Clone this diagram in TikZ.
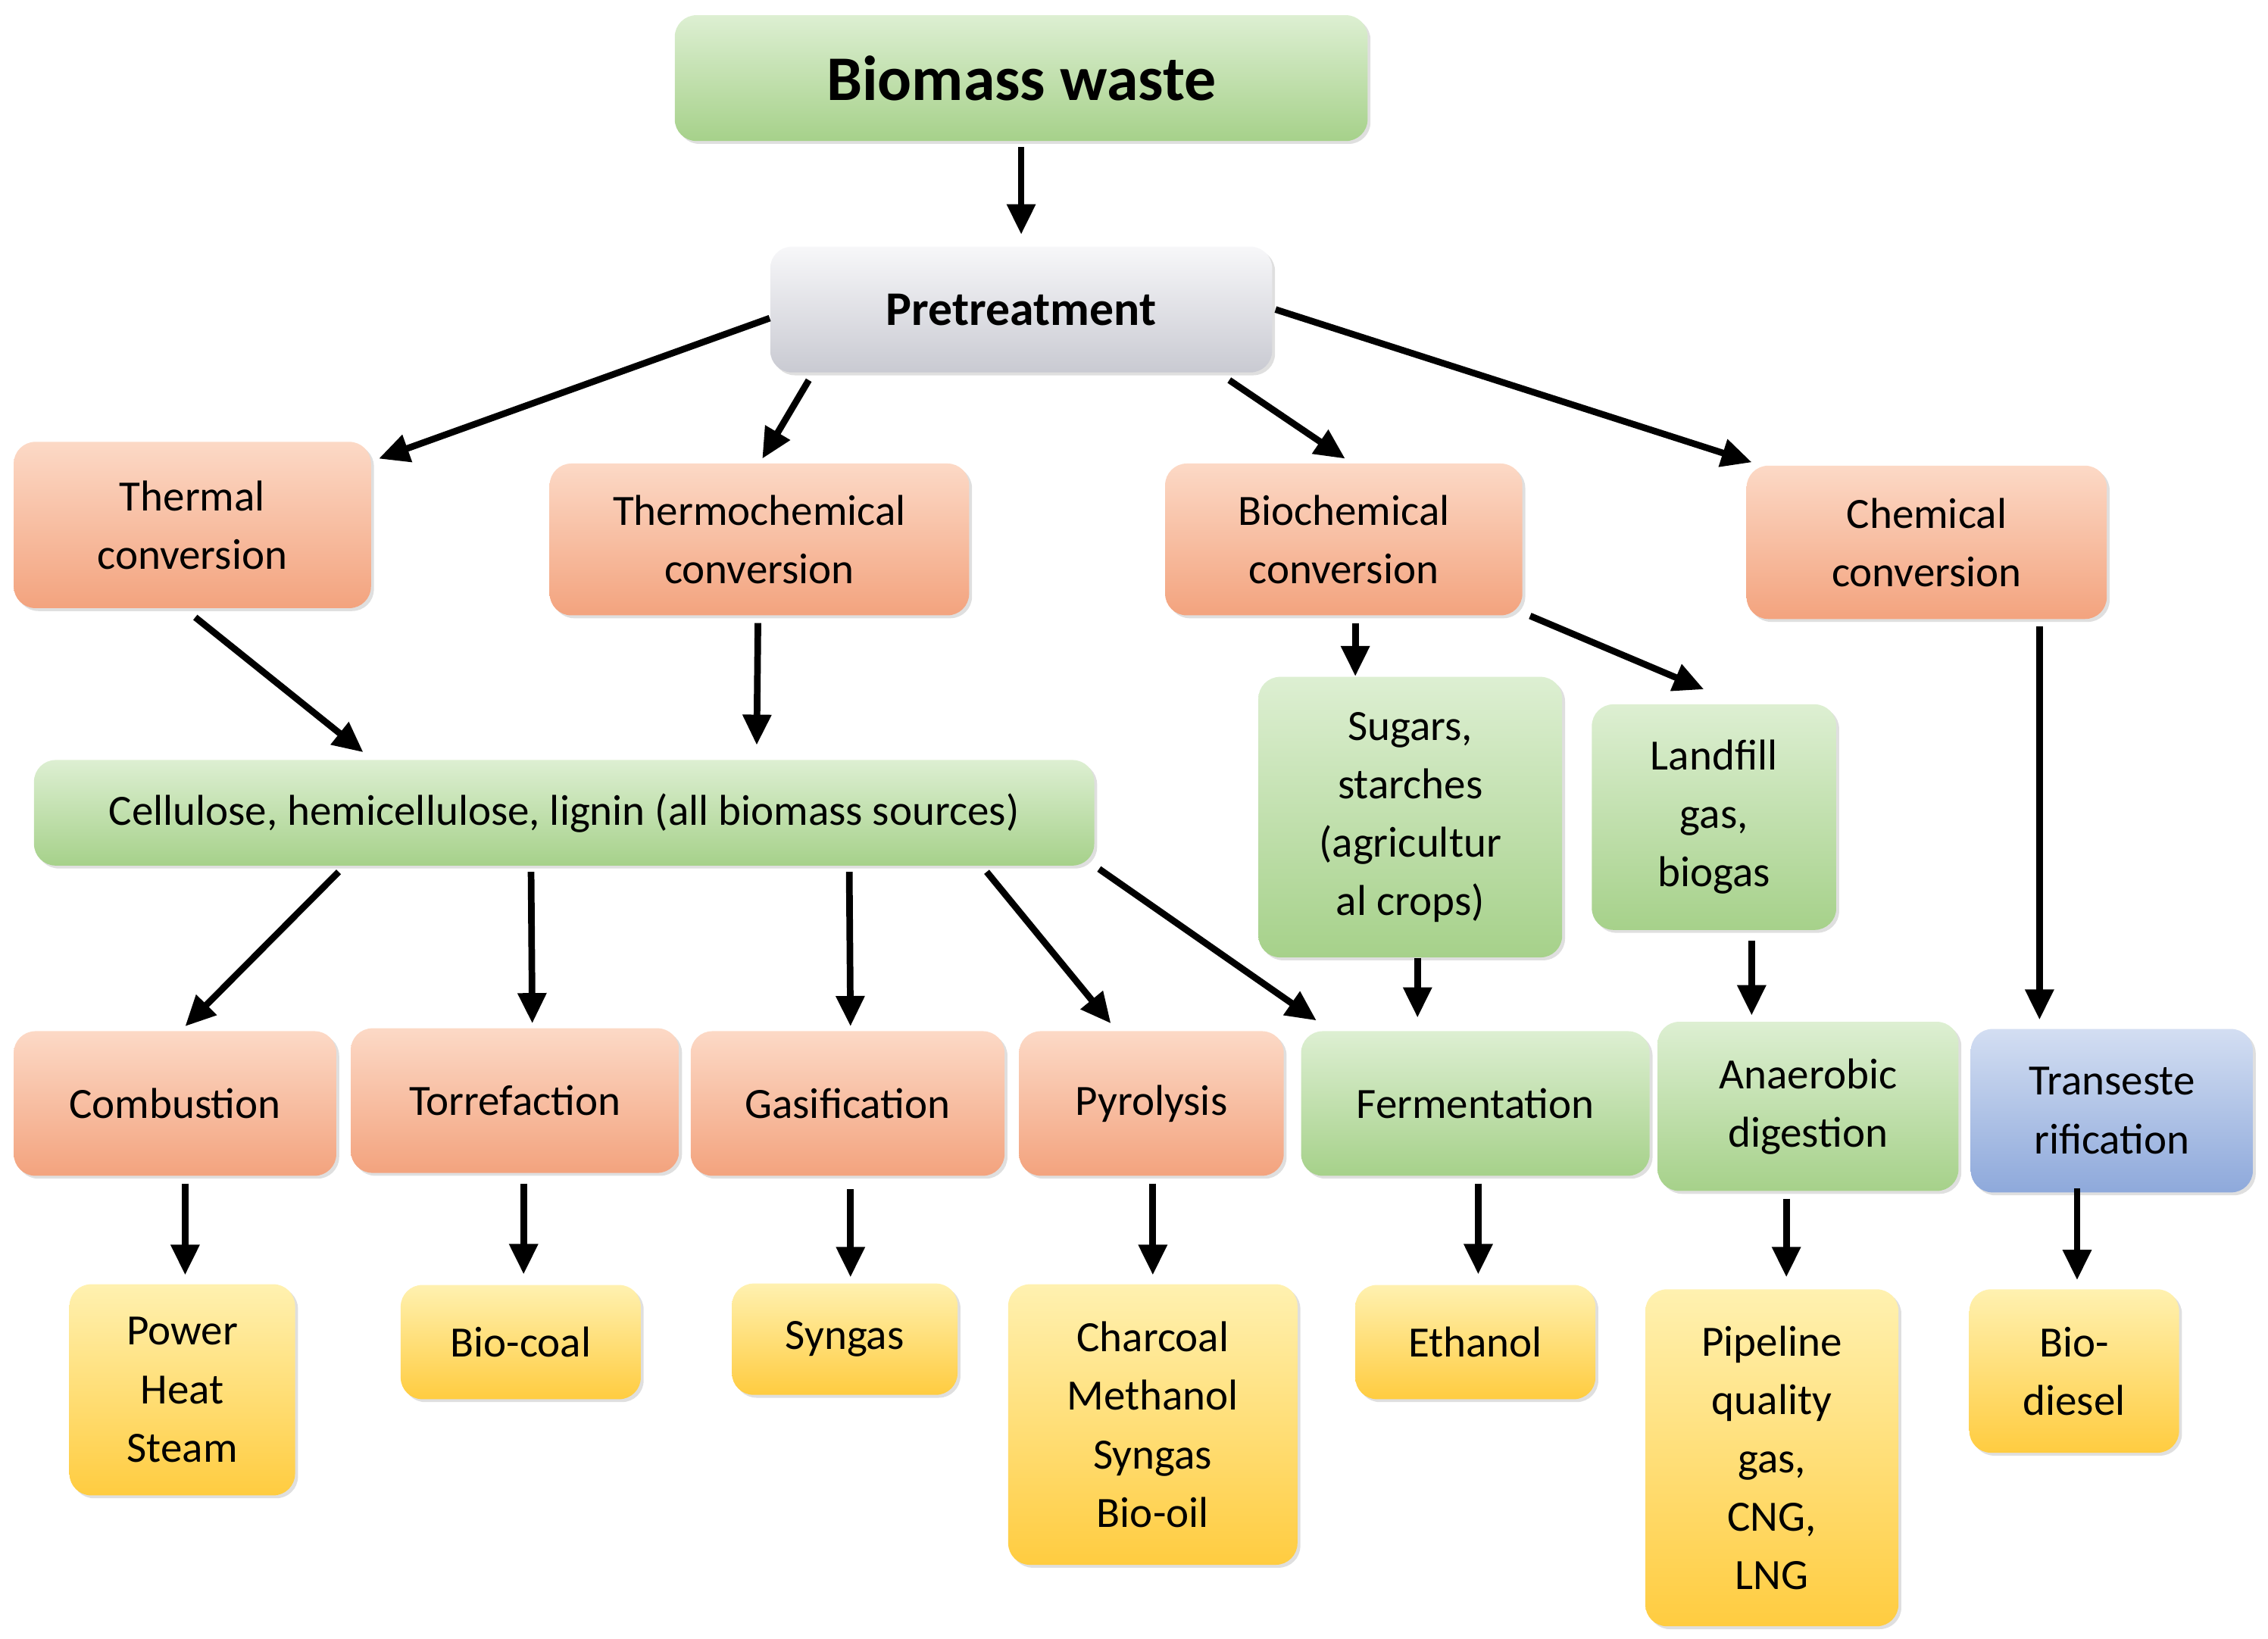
\documentclass[tikz,border=0pt]{standalone}
\usepackage{fontspec}
\setmainfont{Carlito}
\usetikzlibrary{arrows.meta,shadows,calc}
\definecolor{orT}{HTML}{FCD9C6}\definecolor{orB}{HTML}{F3A37E}
\definecolor{grT}{HTML}{DDEFD2}\definecolor{grB}{HTML}{A6D18A}
\definecolor{yeT}{HTML}{FFF1B0}\definecolor{yeB}{HTML}{FFCC40}
\definecolor{blT}{HTML}{D3DEF2}\definecolor{blB}{HTML}{8EA9DB}
\definecolor{gyT}{HTML}{F7F7F9}\definecolor{gyB}{HTML}{C9CAD2}
\tikzset{
 box/.style={rounded corners=0.3cm,draw=none,align=center,font=\fontsize{17}{23}\selectfont,
   drop shadow={shadow xshift=0.04cm,shadow yshift=-0.04cm,opacity=0.25},inner sep=2pt},
 ora/.style={box,top color=orT,bottom color=orB},
 gre/.style={box,top color=grT,bottom color=grB},
 yel/.style={box,top color=yeT,bottom color=yeB},
 blu/.style={box,top color=blT,bottom color=blB},
 gry/.style={box,top color=gyT,bottom color=gyB},
 sz/.style 2 args={minimum width=#1*0.02cm,minimum height=#2*0.02cm},
 arr/.style={line width=2.6pt,-{Triangle[length=0.42cm,width=0.38cm]}}
}
\begin{document}
\begin{tikzpicture}[x=0.02cm,y=-0.02cm]
\useasboundingbox (0,0) rectangle (1568,1133);
\node[gre,sz={479}{87},font=\fontsize{25}{30}\selectfont\bfseries] (bw) at (706,54) {Biomass waste};
\node[gry,sz={347}{87},font=\fontsize{19}{24}\selectfont\bfseries] (pre) at (706,214) {Pretreatment};
\node[ora,sz={247}{115}] (th) at (133,363) {Thermal\\conversion};
\node[ora,sz={290}{105}] (tc) at (525,373) {Thermochemical\\conversion};
\node[ora,sz={247}{105}] (bc) at (929,373) {Biochemical\\conversion};
\node[ora,sz={249}{106}] (cc) at (1332,375) {Chemical\\conversion};
\node[gre,sz={733}{73}] (cel) at (390,562) {Cellulose, hemicellulose, lignin (all biomass sources)};
\node[gre,sz={210}{194}] (sug) at (975,565) {Sugars,\\starches\\(agricultur\\al crops)};
\node[gre,sz={169}{156}] (lf) at (1185,565) {Landfill\\gas,\\biogas};
\node[ora,sz={223}{100}] (com) at (121,763) {Combustion};
\node[ora,sz={227}{100}] (tor) at (356,761) {Torrefaction};
\node[ora,sz={217}{100}] (gas) at (586,763) {Gasification};
\node[ora,sz={183}{100}] (pyr) at (796,763) {Pyrolysis};
\node[gre,sz={241}{100}] (fer) at (1020,763) {Fermentation};
\node[gre,sz={208}{117}] (ana) at (1250,765) {Anaerobic\\digestion};
\node[blu,sz={195}{113}] (tra) at (1460,768) {Transeste\\rification};
\node[yel,sz={156}{146}] (pow) at (126,961) {Power\\Heat\\Steam};
\node[yel,sz={166}{79}] (bco) at (360,928) {Bio-coal};
\node[yel,sz={156}{77}] (syn) at (584,926) {Syngas};
\node[yel,sz={200}{194}] (cha) at (797,985) {Charcoal\\Methanol\\Syngas\\Bio-oil};
\node[yel,sz={166}{79}] (eth) at (1020,928) {Ethanol};
\node[yel,sz={175}{233}] (pip) at (1225,1008) {Pipeline\\quality\\gas,\\CNG,\\LNG};
\node[yel,sz={145}{113}] (bdi) at (1434,948) {Bio-\\diesel};
% arrows
\draw[arr] ($(bw.south)+(0,4)$) -- ($(pre.north)+(0,-8)$);
\draw[arr] ($(pre.west)+(0,6)$) -- ($(th.north east)+(5,12)$);
\draw[arr] ($(pre.south west)+(27,5)$) -- ($(tc.north)+(2,-3)$);
\draw[arr] ($(pre.south east)+(-30,5)$) -- ($(bc.north)+(1,-3)$);
\draw[arr] ($(pre.east)+(2,0)$) -- ($(cc.north west)+(4,-2)$);
\draw[arr] ($(th.south)+(2,6)$) -- ($(cel.north west)+(228,-5)$);
\draw[arr] ($(tc.south)+(-1,5)$) -- ($(cel.north west)+(500,-10)$);
\draw[arr] ($(bc.south)+(8,5)$) -- ($(sug.north)+(-38,0)$);
\draw[arr] ($(bc.south east)+(5,0)$) -- ($(lf.north)+(-7,-10)$);
\draw[arr] ($(cc.south)+(78,5)$) -- ($(tra.north)+(-50,-6)$);
\draw[arr] ($(cel.south west)+(211,4)$) -- ($(com.north)+(7,-3)$);
\draw[arr] ($(cel.south west)+(344,4)$) -- ($(tor.north)+(12,-3)$);
\draw[arr] ($(cel.south west)+(564,4)$) -- ($(gas.north)+(2,-3)$);
\draw[arr] ($(cel.south west)+(659,4)$) -- ($(pyr.north)+(-28,-5)$);
\draw[arr] ($(cel.south east)+(3,2)$) -- ($(fer.north west)+(11,-7)$);
\draw[arr] ($(sug.south)+(5,0)$) -- ($(fer.north)+(-40,-9)$);
\draw[arr] ($(lf.south)+(26,7)$) -- ($(ana.north)+(-39,-4)$);
\draw[arr] ($(com.south)+(7,5)$) -- ($(pow.north)+(2,-6)$);
\draw[arr] ($(tor.south)+(6,7)$) -- ($(bco.north)+(2,-7)$);
\draw[arr] ($(gas.south)+(2,9)$) -- ($(syn.north)+(4,-4)$);
\draw[arr] ($(pyr.south)+(1,5)$) -- ($(cha.north)+(0,-6)$);
\draw[arr] ($(fer.south)+(2,5)$) -- ($(eth.north)+(2,-7)$);
\draw[arr] ($(ana.south)+(-15,5)$) -- ($(pip.north)+(10,-8)$);
\draw[arr] ($(tra.south)+(-24,-3)$) -- ($(bdi.north)+(2,-6)$);
\end{tikzpicture}
\end{document}
